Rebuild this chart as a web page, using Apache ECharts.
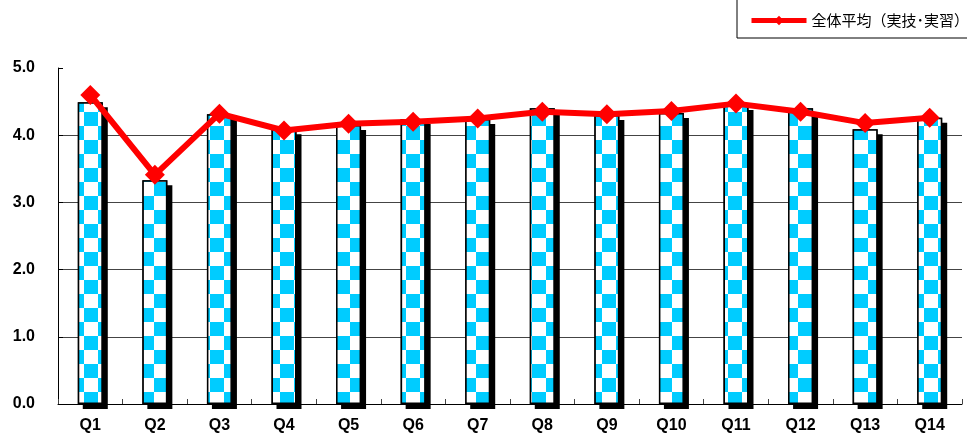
<!DOCTYPE html>
<html>
<head>
<meta charset="utf-8">
<script src="https://cdn.jsdelivr.net/npm/echarts@6/dist/echarts.min.js"></script>
<style>
html,body{margin:0;padding:0;background:#fff;}
#chart{width:967px;height:441px;}
</style>
</head>
<body>
<div id="chart"></div>
<script>
const categories = ['Q1','Q2','Q3','Q4','Q5','Q6','Q7','Q8','Q9','Q10','Q11','Q12','Q13','Q14'];
const barValues = [4.49, 3.33, 4.31, 4.09, 4.15, 4.24, 4.24, 4.40, 4.30, 4.33, 4.45, 4.40, 4.09, 4.26];
const lineValues = [4.60, 3.41, 4.32, 4.07, 4.17, 4.20, 4.25, 4.35, 4.31, 4.36, 4.47, 4.35, 4.18, 4.26];
const lineName = '全体平均（実技･実習）';
const yTicks = [0, 1, 2, 3, 4, 5];

// checkerboard pattern
const cell = 14;
const pat = document.createElement('canvas');
pat.width = cell * 2; pat.height = cell * 2;
const pc = pat.getContext('2d');
pc.fillStyle = '#ffffff';
pc.fillRect(0, 0, cell * 2, cell * 2);
pc.fillStyle = '#00CCFF';
pc.fillRect(0, 0, cell, cell);
pc.fillRect(cell, cell, cell, cell);

const chart = echarts.init(document.getElementById('chart'), null, {renderer: 'canvas'});
chart.setOption({
  animation: false,
  backgroundColor: '#fff',
  grid: {left: 58, right: 5, top: 68, bottom: 37, containLabel: false},
  legend: {
    data: [lineName],
    left: 737,
    top: -6,
    padding: [19, 20, 10, 12],
    borderColor: '#000',
    borderWidth: 1,
    itemWidth: 55,
    itemHeight: 12,
    itemGap: 0,
    lineStyle: {width: 5},
    textStyle: {fontFamily: '"Noto Sans CJK JP"', fontSize: 15, color: '#000'}
  },
  xAxis: {
    type: 'category',
    data: categories,
    boundaryGap: true,
    axisLine: {show: true, lineStyle: {color: '#000', width: 1}},
    axisTick: {show: true, inside: true, length: 5, lineStyle: {color: '#444'}},
    axisLabel: {
      margin: 14,
      fontFamily: '"Liberation Sans", Arial, sans-serif',
      fontWeight: 'bold',
      fontSize: 16,
      color: '#000'
    },
    splitLine: {show: false}
  },
  yAxis: {
    type: 'value',
    min: yTicks[0],
    max: yTicks[yTicks.length - 1],
    interval: 1,
    axisLine: {show: true, lineStyle: {color: '#000', width: 1}},
    axisTick: {show: true, inside: true, length: 5, lineStyle: {color: '#000'}},
    axisLabel: {
      margin: 23,
      fontFamily: '"Liberation Sans", Arial, sans-serif',
      fontWeight: 'bold',
      fontSize: 16,
      color: '#000',
      formatter: v => v.toFixed(1)
    },
    splitLine: {show: true, showMaxLine: false, showMinLine: false, lineStyle: {color: '#444', width: 1}}
  },
  series: [
    {
      name: 'shadow',
      type: 'bar',
      data: barValues,
      barWidth: 25,
      barGap: '-100%',
      z: 1,
      silent: true,
      itemStyle: {
        color: '#000',
        shadowColor: '#000',
        shadowBlur: 0,
        shadowOffsetX: 5,
        shadowOffsetY: 5
      },
      emphasis: {disabled: true}
    },
    {
      name: 'bars',
      type: 'bar',
      data: barValues,
      barWidth: 25,
      barGap: '-100%',
      z: 2,
      itemStyle: {
        color: {image: pat, repeat: 'repeat'},
        borderColor: '#000',
        borderWidth: 1.5
      },
      emphasis: {disabled: true}
    },
    {
      name: lineName,
      type: 'line',
      data: lineValues,
      z: 5,
      symbol: 'diamond',
      symbolSize: 20,
      lineStyle: {color: '#FF0000', width: 6},
      itemStyle: {color: '#FF0000'},
      emphasis: {disabled: true}
    }
  ]
});
</script>
</body>
</html>
